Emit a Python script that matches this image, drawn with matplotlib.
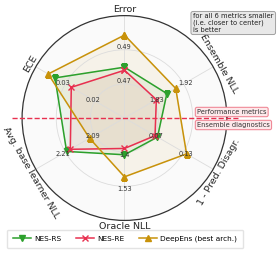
import numpy as np
import matplotlib
matplotlib.use("Agg")
import matplotlib.pyplot as plt

metrics = ["Error", "Ensemble NLL", "1 - Pred. Disagr.", "Oracle NLL",
           "Avg. base learner NLL", "ECE"]
tick_low = [0.47, 1.83, 0.07, 1.4, 2.09, 0.02]
tick_high = [0.49, 1.92, 0.13, 1.53, 2.21, 0.03]
tick_low_labels = ["0.47", "1.83", "0.07", "1.4", "2.09", "0.02"]
tick_high_labels = ["0.49", "1.92", "0.13", "1.53", "2.21", "0.03"]

nes_rs = [0.4798, 1.869, 0.077, 1.410, 2.205, 0.0335]
nes_re = [0.4780, 1.837, 0.072, 1.386, 2.190, 0.0280]
deepens = [0.4986, 1.896, 0.136, 1.494, 2.112, 0.0358]

series_names = ["NES-RS", "NES-RE", "DeepEns (best arch.)"]
colors = ["#2ca02c", "#e8304f", "#c8920a"]
markers = ["v", "x", "^"]

angles_deg = [90, 30, -30, -90, -150, 150]
angles = np.deg2rad(np.mod(angles_deg, 360))


def to_r(vals):
    return [1 + (v - lo) / (hi - lo) for v, lo, hi in zip(vals, tick_low, tick_high)]


fig = plt.figure(figsize=(2.78, 2.56), dpi=100)
ax = fig.add_axes([0.0791, 0.139, 0.7374, 0.8], projection="polar")
ax.set_facecolor("#fafafa")
ax.set_xticks(angles)
ax.set_xticklabels([])
ax.set_xlim(0, 2 * np.pi)
ax.set_ylim(0, 3)
ax.set_yticks([1, 2])
ax.set_yticklabels([])
ax.grid(True, color="#dcdcdc", lw=0.6)
ax.spines["polar"].set_color("#333333")
ax.spines["polar"].set_linewidth(0.9)

handles = []
for vals, name, c, m in zip([nes_rs, nes_re, deepens], series_names, colors, markers):
    r = to_r(vals)
    th = np.concatenate([angles, angles[:1]])
    rr = np.concatenate([r, r[:1]])
    h, = ax.plot(th, rr, color=c, lw=1.1, marker=m, ms=4, label=name)
    ax.fill(th, rr, color=c, alpha=0.07)
    handles.append(h)

# tick labels along each axis
for a, l1, l2 in zip(angles, tick_low_labels, tick_high_labels):
    ax.text(a, 1.08, l1, fontsize=4.8, color="#333333", ha="center", va="center")
    ax.text(a, 2.08, l2, fontsize=4.8, color="#333333", ha="center", va="center")

# metric labels
for a_deg, a, name in zip(angles_deg, angles, metrics):
    rot = a_deg - 90 if a_deg > 0 else a_deg + 90
    ax.text(a, 3.18, name, fontsize=6.8, rotation=rot, ha="center", va="center",
            rotation_mode="anchor", color="#222222")

# dashed separator
fig.add_artist(plt.Line2D([12 / 278, 240 / 278], [1 - 118 / 256, 1 - 118 / 256],
                          color="#e8304f", ls="--", lw=1.0))
box = dict(boxstyle="round,pad=0.25", fc="#fde8ea", ec="#f08a98", lw=0.8)
fig.text(197 / 278, 1 - 112 / 256, "Performance metrics", fontsize=4.8, va="center",
         ha="left", bbox=box, color="#333333")
fig.text(197 / 278, 1 - 125 / 256, "Ensemble diagnostics", fontsize=4.8, va="center",
         ha="left", bbox=box, color="#333333")

fig.text(193 / 278, 1 - 23 / 256, "for all 6 metrics smaller\n(i.e. closer to center)\nis better",
         fontsize=4.9, va="center", ha="left", linespacing=1.05,
         bbox=dict(boxstyle="round,pad=0.3", fc="#e8e8e8", ec="#a0a0a0", lw=0.7),
         color="#222222")

fig.legend(handles=handles, loc="center", bbox_to_anchor=(125 / 278, 1 - 239 / 256),
           ncol=3, fontsize=5.3, frameon=True, handlelength=2.5, columnspacing=2.0,
           handletextpad=0.4, borderpad=0.8, edgecolor="#dddddd")

fig.savefig("out.png", dpi=100)
